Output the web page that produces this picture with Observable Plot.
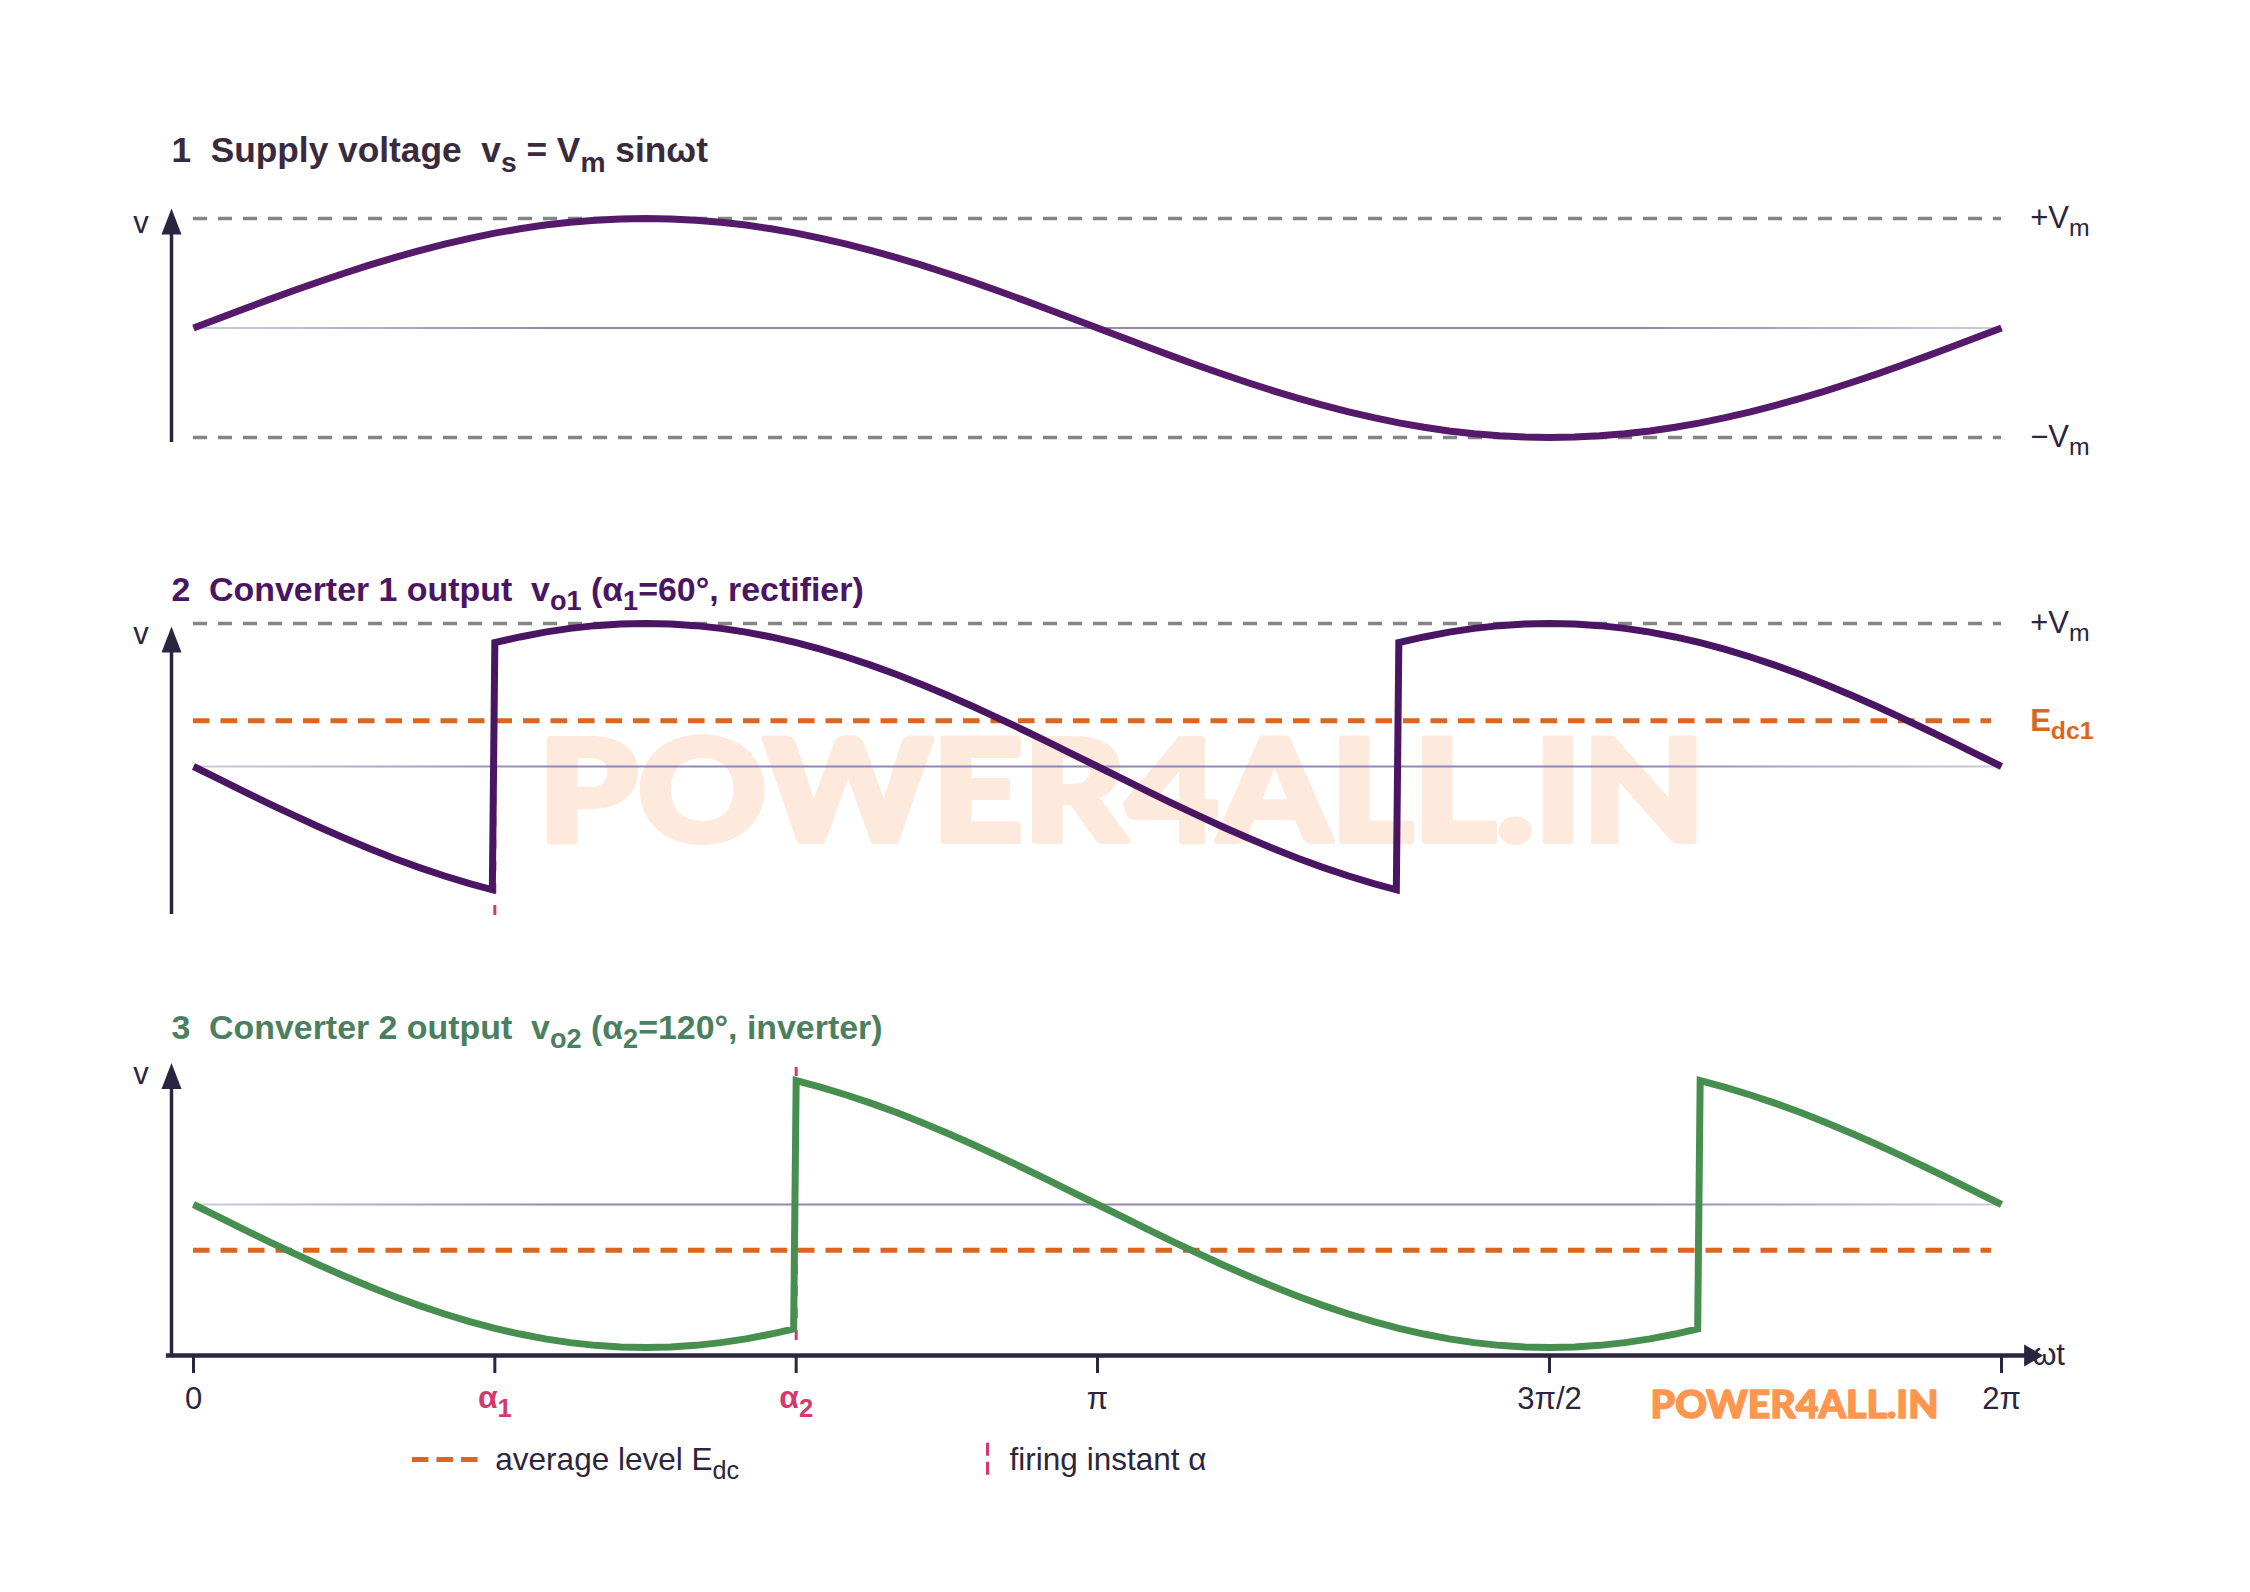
<!DOCTYPE html>
<html>
<head>
<meta charset="utf-8">
<script src="https://cdn.jsdelivr.net/npm/d3@7"></script>
<script src="https://cdn.jsdelivr.net/npm/@observablehq/plot@0.6"></script>
<style>
html,body{margin:0;padding:0;background:#fff;width:2250px;height:1592px;overflow:hidden}
svg{display:block}
svg text{white-space:pre}
</style>
</head>
<body>
<div id="chart"></div>
<script>
// ---- data (degrees of wt, volts relative to Vm)
const supplyAngles = [0,5,10,15,20,25,30,35,40,45,50,55,60,65,70,75,80,85,90,95,100,105,110,115,120,125,130,135,140,145,150,155,160,165,170,175,180,185,190,195,200,205,210,215,220,225,230,235,240,245,250,255,260,265,270,275,280,285,290,295,300,305,310,315,320,325,330,335,340,345,350,355,360];
const supplyValues = [0,.087,.174,.259,.342,.423,.5,.574,.643,.707,.766,.819,.866,.906,.94,.966,.985,.996,1,.996,.985,.966,.94,.906,.866,.819,.766,.707,.643,.574,.5,.423,.342,.259,.174,.087,0,-.087,-.174,-.259,-.342,-.423,-.5,-.574,-.643,-.707,-.766,-.819,-.866,-.906,-.94,-.966,-.985,-.996,-1,-.996,-.985,-.966,-.94,-.906,-.866,-.819,-.766,-.707,-.643,-.574,-.5,-.423,-.342,-.259,-.174,-.087,0];
const conv1Angles = [0,5,10,15,20,25,30,35,40,45,50,55,59.5,60,65,70,75,80,85,90,95,100,105,110,115,120,125,130,135,140,145,150,155,160,165,170,175,180,185,190,195,200,205,210,215,220,225,230,235,239.5,240,245,250,255,260,265,270,275,280,285,290,295,300,305,310,315,320,325,330,335,340,345,350,355,360];
const conv1Values = [0,-.087,-.174,-.259,-.342,-.423,-.5,-.574,-.643,-.707,-.766,-.819,-.862,.866,.906,.94,.966,.985,.996,1,.996,.985,.966,.94,.906,.866,.819,.766,.707,.643,.574,.5,.423,.342,.259,.174,.087,0,-.087,-.174,-.259,-.342,-.423,-.5,-.574,-.643,-.707,-.766,-.819,-.862,.866,.906,.94,.966,.985,.996,1,.996,.985,.966,.94,.906,.866,.819,.766,.707,.643,.574,.5,.423,.342,.259,.174,.087,0];
const conv2Angles = [0,5,10,15,20,25,30,35,40,45,50,55,60,65,70,75,80,85,90,95,100,105,110,115,119.5,120,125,130,135,140,145,150,155,160,165,170,175,180,185,190,195,200,205,210,215,220,225,230,235,240,245,250,255,260,265,270,275,280,285,290,295,299.5,300,305,310,315,320,325,330,335,340,345,350,355,360];
const conv2Values = [0,-.087,-.174,-.259,-.342,-.423,-.5,-.574,-.643,-.707,-.766,-.819,-.866,-.906,-.94,-.966,-.985,-.996,-1,-.996,-.985,-.966,-.94,-.906,-.87,.866,.819,.766,.707,.643,.574,.5,.423,.342,.259,.174,.087,0,-.087,-.174,-.259,-.342,-.423,-.5,-.574,-.643,-.707,-.766,-.819,-.866,-.906,-.94,-.966,-.985,-.996,-1,-.996,-.985,-.966,-.94,-.906,-.87,.866,.819,.766,.707,.643,.574,.5,.423,.342,.259,.174,.087,0];
const edc1 = 0.32;
const edc2 = -0.32;
const firing1 = 60;
const firing2 = 120;
const plainTicks = [0,180,270,360];
const plainTickLabels = ["0","π","3π/2","2π"];
const alphaTicks = [60,120];
const alphaTickLabels = ["α_{1}","α_{2}"];
const titles = ["1  Supply voltage  v_{s} = V_{m} sinωt","2  Converter 1 output  v_{o1} (α_{1}=60°, rectifier)","3  Converter 2 output  v_{o2} (α_{2}=120°, inverter)"];
const legendLabels = ["average level E_{dc}","firing instant α"];
const watermark = "POWER4ALL.IN";

// ---- styles
const FONT = "Liberation Sans";
const INK = "#2b2540", GREY = "#858585", ORANGE = "#dc661d", PINK = "#d6386c";
const PURPLE1 = "#561a6b", PURPLE2 = "#4a1563", GREEN = "#478f4f";
const xScale = {domain:[0,360], range:[193,2001]};
const AXIS_X = -4.38;

function arrowSymbol(halfWidth, halfLength){
  return {draw(ctx){ ctx.moveTo(0,-halfLength); ctx.lineTo(halfWidth,halfLength); ctx.lineTo(-halfWidth,halfLength); ctx.closePath(); }};
}
function label(text, x, y, o={}){
  return Plot.text([text], {x:()=>x, y:()=>y, text:d=>d, textAnchor:"start", lineAnchor:"middle", fontSize:31, fill:INK, ...o});
}
function grey(y){ return Plot.ruleY([y], {x1:0, x2:360, stroke:GREY, strokeWidth:3.5, strokeDasharray:"14,11"}); }
function avg(y){ return Plot.ruleY([y], {x1:0, x2:358, stroke:ORANGE, strokeWidth:5, strokeDasharray:"16.5,11"}); }
function zero(){ return Plot.ruleY([0], {x1:0, x2:360, stroke:"url(#zeroFade)", strokeWidth:2}); }
function vAxis(yBottom, yArrow){
  return [
    Plot.ruleX([AXIS_X], {y1:yBottom, y2:yArrow, stroke:INK, strokeWidth:3.5}),
    Plot.dot([0], {x:()=>AXIS_X, y:()=>yArrow, symbol:arrowSymbol(10,13), r:13, fill:INK, stroke:"none"})
  ];
}
function curve(xs, ys, color){
  return Plot.line(ys, {x:xs, y:ys, stroke:color, strokeWidth:7, strokeLinejoin:"miter", strokeMiterlimit:10, strokeLinecap:"butt"});
}
function finish(svg){
  const NS = "http://www.w3.org/2000/svg";
  const defs = document.createElementNS(NS,"defs");
  defs.innerHTML = '<linearGradient id="zeroFade" gradientUnits="userSpaceOnUse" x1="193" x2="2001" y1="0" y2="0">'+
    '<stop offset="0" stop-color="#cfcce0"/><stop offset="0.2" stop-color="#8f8ab0"/><stop offset="0.8" stop-color="#8f8ab0"/><stop offset="1" stop-color="#cfcce0"/></linearGradient>';
  svg.prepend(defs);
  svg.querySelectorAll("text").forEach(t=>{
    const s = t.textContent;
    if(s === watermark){
      const fs = parseFloat(getComputedStyle(t).fontSize);
      t.setAttribute("textLength", fs > 100 ? 1167 : 288);
      t.setAttribute("lengthAdjust", "spacingAndGlyphs");
      return;
    }
    if(!s.includes("_{")) return;
    const fs = parseFloat(getComputedStyle(t).fontSize) || 31;
    const shift = Math.round(fs*0.27);
    t.textContent = "";
    let pending = 0;
    s.split(/(_\{[^}]*\})/).forEach(part=>{
      if(!part) return;
      const ts = document.createElementNS(NS,"tspan");
      if(part.startsWith("_{")){
        ts.textContent = part.slice(2,-1);
        ts.setAttribute("font-size", fs*0.8);
        ts.setAttribute("dy", shift);
        pending = -shift;
      } else {
        ts.textContent = part;
        if(pending) ts.setAttribute("dy", pending);
        pending = 0;
      }
      t.appendChild(ts);
    });
  });
  return svg;
}
const base = {width:2250, margin:0, x:{...xScale, axis:null}, style:{fontFamily:FONT, background:"#fff"}};

const panel1 = Plot.plot({...base, height:550,
  y:{domain:[-1,1], range:[437,218], axis:null},
  marks:[
    label(titles[0], -4.4, 1.62, {fontSize:35.3, fontWeight:"bold", fill:"#3a2a3e"}),
    label("v", -12, .954),
    ...vAxis(-1.046,.973),
    grey(1), grey(-1), zero(),
    curve(supplyAngles, supplyValues, PURPLE1),
    label("+V_{m}", 365.7, 1),
    label("−V_{m}", 365.7, -1)
  ]});

const panel2 = Plot.plot({...base, height:450,
  y:{domain:[-1,1], range:[359,73], axis:null},
  marks:[
    Plot.text([watermark], {x:()=>184.8, y:()=>-.2, text:d=>d, fontFamily:"Lato", fontWeight:"900", fontSize:142, fill:"#fee9dd", stroke:"#fee9dd", strokeWidth:6, strokeLinejoin:"round", lineAnchor:"middle"}),
    label(titles[1], -4.4, 1.23, {fontSize:33.9, fontWeight:"bold", fill:PURPLE2}),
    label("v", -12, .923),
    ...vAxis(-1.035,.888),
    Plot.ruleX([firing1], {y1:-1.042, y2:.958, stroke:PINK, strokeWidth:3, strokeDasharray:"10,12"}),
    grey(1), zero(), avg(edc1),
    curve(conv1Angles, conv1Values, PURPLE2),
    label("+V_{m}", 365.7, 1),
    label("E_{dc1}", 365.7, edc1, {fontWeight:"bold", fill:ORANGE})
  ]});

const panel3 = Plot.plot({...base, height:592, marginBottom:237,
  y:{domain:[-1,1], range:[347,61], axis:null},
  marks:[
    label(titles[2], -4.4, 1.231, {fontSize:33.9, fontWeight:"bold", fill:"#4a8060"}),
    label("v", -12, .909),
    label("ωt", 366.1, -1.056),
    ...vAxis(-1.056,.899),
    Plot.ruleY([-1.056], {x1:-5.4, x2:366, stroke:INK, strokeWidth:4.5}),
    Plot.dot([0], {x:()=>366.4, y:()=>-1.056, symbol:arrowSymbol(11,9.5), r:10, rotate:90, fill:INK, stroke:"none"}),
    Plot.axisX(plainTicks, {anchor:"bottom", tickSize:18, tickPadding:13, fontSize:31, stroke:INK, fill:INK, strokeWidth:3, label:null, tickFormat:d=>plainTickLabels[plainTicks.indexOf(d)]}),
    Plot.axisX(alphaTicks, {anchor:"bottom", tickSize:18, tickPadding:12, fontSize:32, fontWeight:"bold", stroke:INK, fill:PINK, strokeWidth:3, label:null, tickFormat:d=>alphaTickLabels[alphaTicks.indexOf(d)]}),
    Plot.ruleX([firing2], {y1:-.951, y2:.958, stroke:PINK, strokeWidth:3, strokeDasharray:"10,12"}),
    zero(), avg(edc2),
    curve(conv2Angles, conv2Values, GREEN),
    Plot.text([watermark], {x:()=>318.8, y:()=>-1.41, text:d=>d, fontFamily:"Lato", fontWeight:"900", fontSize:38, fill:"#ff9650", stroke:"#ff9650", strokeWidth:1.5, lineAnchor:"middle"}),
    Plot.ruleY([-1.783], {x1:43.6, x2:56.9, stroke:ORANGE, strokeWidth:5, strokeDasharray:"16.5,8"}),
    label(legendLabels[0], 60.1, -1.783, {fontSize:31.5}),
    Plot.ruleX([158.1], {y1:-1.67, y2:-1.895, stroke:PINK, strokeWidth:3, strokeDasharray:"13,6"}),
    label(legendLabels[1], 162.5, -1.783, {fontSize:31.5})
  ]});

const host = document.getElementById("chart");
[panel1,panel2,panel3].forEach(p=>{ host.appendChild(p); finish(p); });
</script>
</body>
</html>
